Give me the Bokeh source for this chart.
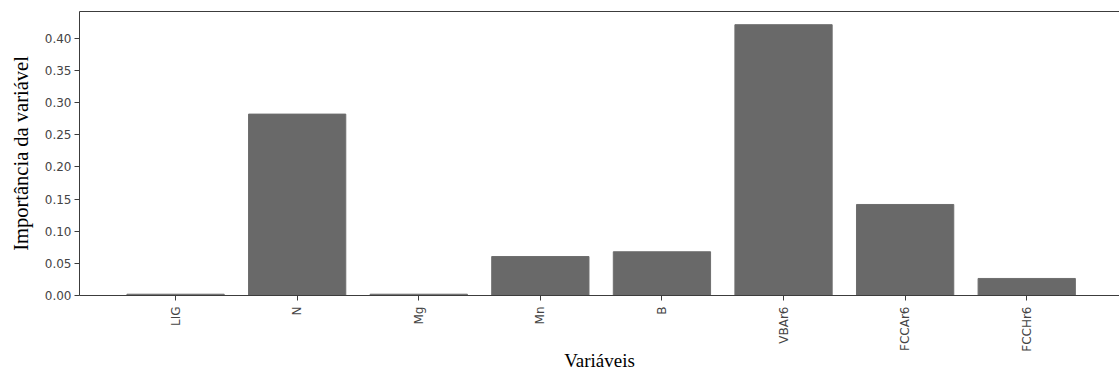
import math
from bokeh.plotting import figure
from bokeh.models import Range1d, FixedTicker, LinearAxis
from bokeh.embed import file_html
from bokeh.resources import INLINE

categories = ["LIG", "N", "Mg", "Mn", "B", "VBAr6", "FCCAr6", "FCCHr6"]
importance = [0.002, 0.282, 0.002, 0.0606, 0.068, 0.421, 0.1415, 0.0265]
y_ticks = [0.0, 0.05, 0.10, 0.15, 0.20, 0.25, 0.30, 0.35, 0.40]
y_tick_labels = ["0.00", "0.05", "0.10", "0.15", "0.20", "0.25", "0.30", "0.35", "0.40"]
x_title = "Variáveis"
y_title = "Importância da variável"

xs = list(range(len(categories)))

p = figure(width=1119, height=374, output_backend="svg", toolbar_location=None,
           x_range=Range1d(-0.79, 7.763), y_range=Range1d(0, 0.4415),
           min_border_left=79, min_border_right=0, min_border_top=11, min_border_bottom=79)
p.outline_line_color = None
p.background_fill_color = "white"
p.border_fill_color = "white"
p.xgrid.visible = False
p.ygrid.visible = False

p.vbar(x=xs, top=importance, width=0.8, fill_color="#696969", line_color="#6e6e6e", line_width=1)

tick_font = "DejaVu Sans"
ax_col = "#3c3c3c"
lab_col = "#444444"

xa = p.xaxis[0]
xa.ticker = FixedTicker(ticks=xs)
xa.major_label_overrides = {i: c for i, c in zip(xs, categories)}
xa.major_label_orientation = math.pi / 2
xa.major_label_text_font = tick_font
xa.major_label_text_font_size = "12px"
xa.major_label_text_color = lab_col
xa.major_label_standoff = 6
xa.major_tick_out = 5
xa.major_tick_in = 0
xa.minor_tick_out = 0
xa.minor_tick_in = 0
xa.axis_line_color = ax_col
xa.major_tick_line_color = ax_col
xa.axis_label = x_title
xa.axis_label_text_font = "Liberation Serif"
xa.axis_label_text_font_size = "19px"
xa.axis_label_text_font_style = "normal"
xa.axis_label_text_color = "black"
xa.axis_label_standoff = -5

ya = p.yaxis[0]
ya.ticker = FixedTicker(ticks=y_ticks)
ya.major_label_overrides = {t: l for t, l in zip(y_ticks, y_tick_labels)}
ya.major_label_text_font = tick_font
ya.major_label_text_font_size = "12px"
ya.major_label_text_color = lab_col
ya.major_label_standoff = 3
ya.major_tick_out = 5
ya.major_tick_in = 0
ya.minor_tick_out = 0
ya.minor_tick_in = 0
ya.axis_line_color = ax_col
ya.major_tick_line_color = ax_col
ya.axis_label = y_title
ya.axis_label_text_font = "Liberation Serif"
ya.axis_label_text_font_size = "20.5px"
ya.axis_label_text_font_style = "normal"
ya.axis_label_text_color = "black"
ya.axis_label_standoff = 10

top = LinearAxis(ticker=FixedTicker(ticks=[]), major_tick_out=0, major_tick_in=0,
                 minor_tick_out=0, minor_tick_in=0, major_label_text_font_size="0px",
                 axis_line_color=ax_col)
p.add_layout(top, "above")

open("out.html", "w").write(file_html(p, INLINE))
